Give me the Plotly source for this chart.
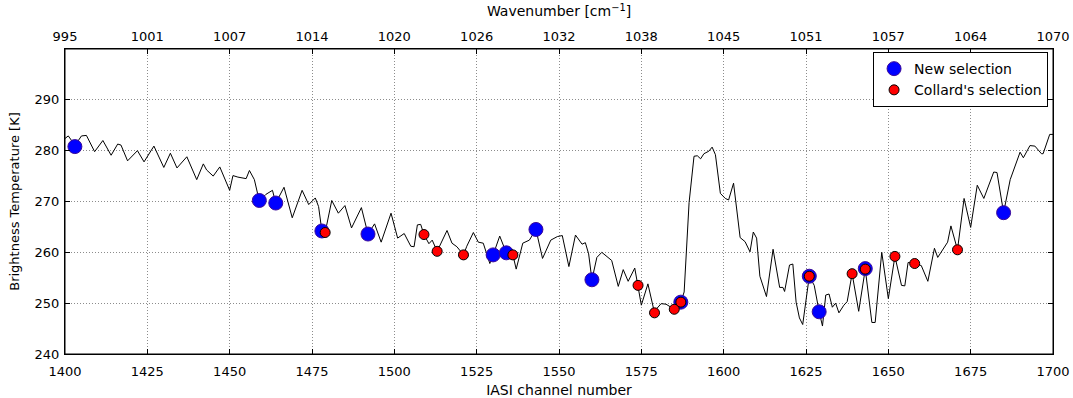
import plotly.graph_objects as go

# Brightness temperature spectrum (channel, K)
channels = [1400, 1401, 1402, 1403, 1405, 1406.5, 1409, 1411.5, 1414, 1416, 1417, 1419, 1422, 1424,
            1427, 1430, 1432, 1434, 1437, 1440, 1442, 1443, 1445, 1447, 1450, 1451, 1452.5, 1455,
            1456, 1457.5, 1459, 1461, 1463, 1464, 1466.5, 1469, 1472, 1474, 1476, 1477, 1478, 1479,
            1481, 1483, 1485, 1487, 1490, 1492, 1494, 1496, 1499, 1501, 1503, 1505, 1506, 1507,
            1508, 1509, 1510.5, 1511.5, 1513, 1516, 1517.5, 1519, 1521, 1522, 1524, 1525.5, 1527,
            1529, 1530, 1532, 1534, 1536, 1537, 1539, 1541, 1543, 1545, 1547.5, 1549.5, 1551, 1553,
            1555, 1557, 1558, 1559, 1560, 1561.5, 1563, 1566, 1568, 1569.5, 1571, 1573, 1574, 1575,
            1577, 1579, 1579.5, 1581, 1582.5, 1585, 1587, 1588, 1589.5, 1590.5, 1591, 1592, 1593,
            1594, 1595.5, 1596.5, 1597.5, 1599, 1600.5, 1601.5, 1603, 1605, 1606.5, 1608, 1609,
            1610, 1611, 1613, 1615, 1617, 1618, 1618.5, 1620, 1621, 1622, 1623, 1624, 1626, 1627.5,
            1629, 1630, 1631, 1632, 1633, 1634, 1635, 1636.5, 1637.5, 1639, 1641, 1643, 1645, 1646,
            1648, 1650, 1652, 1654, 1655, 1656, 1658, 1660, 1662, 1664, 1665, 1668, 1669, 1671,
            1673, 1675, 1677, 1679, 1682, 1683, 1685, 1687, 1690, 1691, 1693, 1694.5, 1696.5, 1697,
            1699, 1700]
bt = [282.4, 282.9, 282.0, 281.0, 282.9, 283.0, 279.8, 282.0, 279.1, 281.3, 281.1, 278.0, 280.0, 277.8,
      280.9, 276.7, 279.5, 276.6, 278.8, 274.3, 277.4, 276.2, 275.0, 276.8, 272.2, 275.1, 274.8, 274.5,
      276.1, 274.3, 270.1, 271.4, 272.2, 269.7, 272.8, 266.8, 272.2, 269.4, 270.7, 269.0, 264.2, 263.9,
      270.2, 267.7, 269.2, 264.8, 268.8, 263.6, 265.6, 262.0, 267.7, 262.8, 263.7, 261.2, 261.1, 265.4,
      265.5, 263.5, 261.7, 262.4, 260.2, 264.3, 261.8, 261.1, 259.5, 261.2, 263.9, 262.0, 261.8,
      257.8, 259.5, 263.2, 259.9, 259.5, 256.7, 261.8, 262.4, 264.5, 258.8, 262.4, 263.1, 263.3, 257.2,
      263.4, 261.6, 261.9, 259.7, 254.6, 259.0, 260.0, 258.4, 253.3, 256.6, 254.3, 256.9, 253.5, 249.6,
      253.8, 248.1, 248.8, 249.9, 249.8, 248.8, 250.2, 252.2, 269.8, 276.6, 278.9, 279.0, 278.4,
      279.4, 279.9, 280.7, 279.2, 271.6, 270.6, 270.3, 273.6, 262.9, 262.1, 260.1, 264.0,
      262.8, 255.3, 251.3, 260.6, 253.1, 253.1, 252.3, 257.5, 257.7, 250.2, 247.1, 245.8, 255.3, 253.5,
      248.3, 245.5, 251.6, 251.8, 249.2, 250.0, 248.1, 249.6, 250.3, 255.8, 248.4, 256.7, 246.2, 246.2,
      260.0, 250.9, 259.2, 253.5, 253.4, 258.0, 257.8, 257.4, 254.3, 260.8, 259.0, 262.0, 265.2, 260.5,
      270.6, 264.9, 273.2, 270.6, 275.8, 275.7, 267.8, 274.3, 279.7, 278.6, 281.0, 280.9, 279.4, 279.4,
      283.2, 283.2]

new_ch = [1403, 1459, 1464, 1478, 1492, 1530, 1534, 1543, 1560, 1587, 1626, 1629, 1643, 1685]
new_bt = [280.8, 270.2, 269.7, 264.2, 263.6, 259.5, 259.9, 264.5, 254.6, 250.2, 255.3, 248.3, 256.8, 267.8]

collard_ch = [1479, 1509, 1513, 1521, 1536, 1574, 1579, 1585, 1587, 1626, 1639, 1643, 1652, 1658, 1671]
collard_bt = [263.9, 263.5, 260.2, 259.5, 259.5, 253.5, 248.1, 248.8, 250.2, 255.3, 255.8, 256.7, 259.2, 257.8, 260.5]

bottom_ticks = [1400, 1425, 1450, 1475, 1500, 1525, 1550, 1575, 1600, 1625, 1650, 1675, 1700]
top_labels = ["995", "1001", "1007", "1014", "1020", "1026", "1032", "1038", "1045", "1051", "1057", "1064", "1070"]
y_ticks = [240, 250, 260, 270, 280, 290]

FONT = "DejaVu Sans"
GRID = dict(showgrid=True, gridcolor="#8c8c8c", griddash="1px,2px", gridwidth=1)

fig = go.Figure()
fig.add_trace(go.Scatter(x=channels, y=bt, mode="lines", line=dict(color="black", width=1),
                         showlegend=False, hoverinfo="skip"))
fig.add_trace(go.Scatter(x=new_ch, y=new_bt, mode="markers", name="New selection",
                         marker=dict(color="#0000ff", size=14, line=dict(color="#3a0a9a", width=1))))
fig.add_trace(go.Scatter(x=collard_ch, y=collard_bt, mode="markers", name="Collard's selection",
                         marker=dict(color="#ff0000", size=10, line=dict(color="black", width=1))))
# invisible trace to anchor the top axis
fig.add_trace(go.Scatter(x=[bottom_ticks[0], bottom_ticks[-1]], y=[260, 260], xaxis="x2",
                         mode="markers", marker=dict(opacity=0, size=1), showlegend=False,
                         hoverinfo="skip"))

axis_common = dict(showline=True, linecolor="black", linewidth=1, automargin=False,
                   ticks="inside", ticklen=5, tickcolor="black", zeroline=False,
                   tickfont=dict(family=FONT, size=13, color="black"))

fig.update_layout(
    width=1073, height=398,
    margin=dict(l=65, r=20, t=49, b=44),
    paper_bgcolor="white", plot_bgcolor="white",
    font=dict(family=FONT, size=13, color="black"),
    xaxis=dict(range=[1400, 1700], tickvals=bottom_ticks, ticklabelstandoff=5,
               title=dict(text="IASI channel number", font=dict(family=FONT, size=14), standoff=10),
               **GRID, **axis_common),
    xaxis2=dict(range=[1400, 1700], overlaying="x", side="top", tickvals=bottom_ticks,
                ticktext=top_labels, showgrid=False, ticklabelstandoff=2,
                title=dict(text="Wavenumber [cm<sup>−1</sup>]", font=dict(family=FONT, size=14), standoff=8),
                **axis_common),
    yaxis=dict(range=[240, 300], tickvals=y_ticks, mirror="ticks", ticklabelstandoff=2,
               title=dict(text="Brightness Temperature [K]", font=dict(family=FONT, size=13), standoff=12),
               **GRID, **axis_common),
    legend=dict(x=0.995, y=0.99, xanchor="right", yanchor="top", bgcolor="white",
                bordercolor="black", borderwidth=1, font=dict(family=FONT, size=14)),
    showlegend=True,
)
# frame
fig.add_shape(type="rect", xref="paper", yref="paper", x0=0, y0=0, x1=1, y1=1,
              line=dict(color="black", width=1), layer="above")

fig.write_html("out.html")
